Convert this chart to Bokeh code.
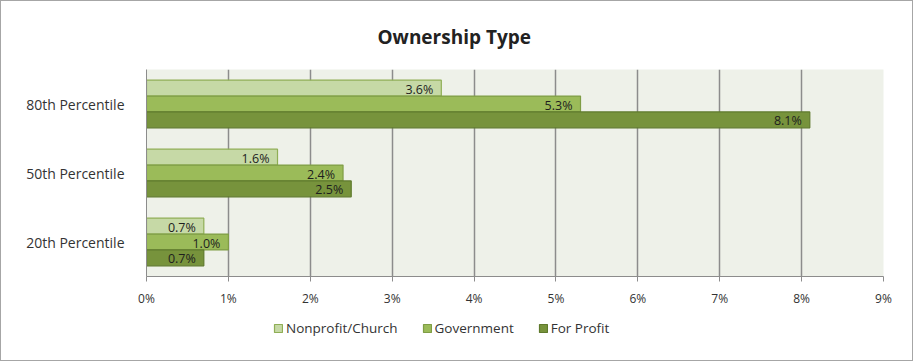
from bokeh.plotting import figure
from bokeh.layouts import column
from bokeh.models import (ColumnDataSource, FactorRange, Legend, LegendItem,
                          FixedTicker)
from bokeh.transform import dodge
from bokeh.core.properties import value
from bokeh.embed import file_html
from bokeh.resources import INLINE

# ---- data ----
categories = ["20th Percentile", "50th Percentile", "80th Percentile"]
series_names = ["Nonprofit/Church", "Government", "For Profit"]
nonprofit = [0.7, 1.6, 3.6]
government = [1.0, 2.4, 5.3]
for_profit = [0.7, 2.5, 8.1]
x_ticks = [0, 1, 2, 3, 4, 5, 6, 7, 8, 9]
x_tick_labels = ["0%", "1%", "2%", "3%", "4%", "5%", "6%", "7%", "8%", "9%"]
title_text = "Ownership Type"

# ---- style ----
FONT = "Open Sans"
fills = ["#c6d9a6", "#9bbb59", "#77933c"]
lines = ["#8fae55", "#7f9d45", "#5f7a2c"]
offsets = [0.23, 0.0, -0.23]
bar_h = 0.23

p = figure(width=911, height=315, output_backend="svg", toolbar_location=None,
           x_range=(0, 9), y_range=FactorRange(factors=categories, range_padding=0),
           min_border_left=145, min_border_right=29, min_border_top=65,
           min_border_bottom=40, title=title_text)
p.background_fill_color = "#eef1e9"
p.border_fill_color = "white"
p.outline_line_color = None
p.title.align = "left"
p.title.offset = 231
p.title.standoff = 40
p.title.text_font = FONT
p.title.text_font_size = "19px"
p.title.text_font_style = "bold"
p.title.text_color = "#222222"

source = ColumnDataSource(dict(cat=categories, np_=nonprofit, gov=government, fp=for_profit,
                               np_lbl=[f"{v:.1f}%" for v in nonprofit],
                               gov_lbl=[f"{v:.1f}%" for v in government],
                               fp_lbl=[f"{v:.1f}%" for v in for_profit]))

cols = ["np_", "gov", "fp"]
lbls = ["np_lbl", "gov_lbl", "fp_lbl"]
for col, lbl, off, fc, lc in zip(cols, lbls, offsets, fills, lines):
    p.hbar(y=dodge("cat", off, range=p.y_range), left=0, right=col, height=bar_h,
           source=source, fill_color=fc, line_color=lc, line_width=1.2)
    p.text(x=col, y=dodge("cat", off, range=p.y_range), text=lbl,
           source=source, text_align="right", text_baseline="middle", x_offset=-8, y_offset=1,
           text_font=value(FONT), text_font_size="12.5px", text_color="#1e1e1e")

# grid
p.ygrid.grid_line_color = None
p.xgrid.ticker = FixedTicker(ticks=x_ticks)
p.xgrid.grid_line_color = "#8c8c8c"
p.xgrid.grid_line_width = 1.5

# axes
p.xaxis.ticker = FixedTicker(ticks=x_ticks)
p.xaxis.major_label_overrides = {t: l for t, l in zip(x_ticks, x_tick_labels)}
p.xaxis.axis_line_color = "#8c8c8c"
p.xaxis.major_tick_line_color = "#8c8c8c"
p.xaxis.major_tick_in = 0
p.xaxis.major_tick_out = 5
p.xaxis.minor_tick_line_color = None
p.xaxis.major_label_text_font = FONT
p.xaxis.major_label_text_font_size = "12px"
p.xaxis.major_label_text_color = "#333333"
p.xaxis.major_label_standoff = 8

p.yaxis.axis_line_color = "#8c8c8c"
p.yaxis.major_tick_line_color = None
p.yaxis.minor_tick_line_color = None
p.yaxis.major_label_text_font = FONT
p.yaxis.major_label_text_font_size = "14px"
p.yaxis.major_label_text_color = "#333333"
p.yaxis.major_label_standoff = 16

# ---- legend strip ----
lg = figure(width=911, height=44, output_backend="svg", toolbar_location=None,
            x_range=(0, 1), y_range=(0, 1), min_border=0)
lg.axis.visible = False
lg.grid.visible = False
lg.outline_line_color = None
lg.background_fill_color = "white"
lg.border_fill_color = "white"
leg_renderers = []
for fc, lc in zip(fills, lines):
    # one off-screen bar per series, only so that the legend has a glyph to draw
    leg_renderers.append(lg.hbar(y=[-10], right=[0.5], left=0, height=0.1,
                                 fill_color=fc, line_color=lc, line_width=1.2))
legend = Legend(items=[LegendItem(label=n, renderers=[r]) for n, r in zip(series_names, leg_renderers)],
                orientation="horizontal", location=(127, 23),
                label_text_font=FONT, label_text_font_size="13.5px", label_text_color="#333333",
                glyph_width=10, glyph_height=10, spacing=24, label_standoff=3, padding=4,
                border_line_color=None, background_fill_alpha=0, margin=0)
lg.add_layout(legend, "center")

layout = column(p, lg, spacing=0)
layout.styles = {"border": "1px solid #a6a6a6", "box-sizing": "border-box"}

open("out.html", "w").write(file_html(layout, INLINE))
